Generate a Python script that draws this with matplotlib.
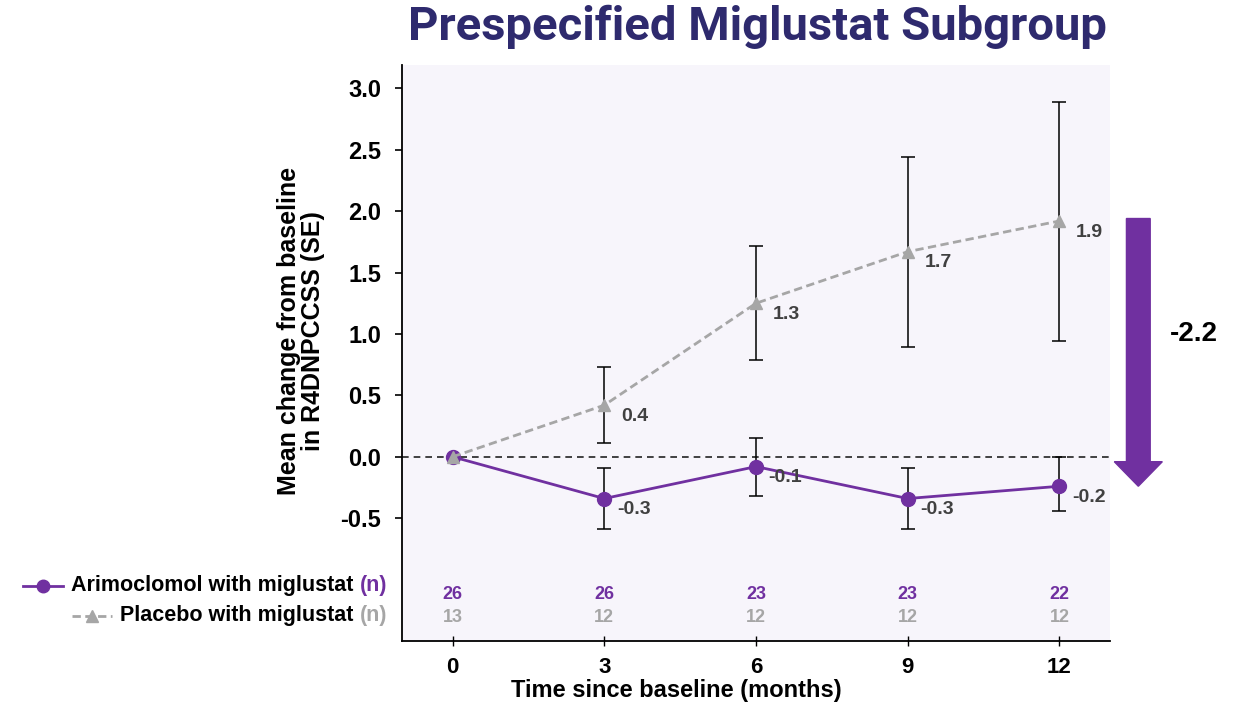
import matplotlib
matplotlib.use("Agg")
import matplotlib.pyplot as plt
from matplotlib.patches import FancyArrow

plt.rcParams['font.family'] = ['Liberation Sans', 'DejaVu Sans']

# ---- data ----
months = [0, 3, 6, 9, 12]
ari_mean = [0.0, -0.34, -0.08, -0.34, -0.24]
ari_lo = [0.0, -0.59, -0.32, -0.59, -0.44]
ari_hi = [0.0, -0.09, 0.15, -0.09, 0.0]
ari_labels = ["", "-0.3", "-0.1", "-0.3", "-0.2"]
pla_mean = [0.0, 0.42, 1.25, 1.67, 1.92]
pla_lo = [0.0, 0.11, 0.79, 0.89, 0.94]
pla_hi = [0.0, 0.73, 1.72, 2.44, 2.89]
pla_labels = ["", "0.4", "1.3", "1.7", "1.9"]
ari_n = [26, 26, 23, 23, 22]
pla_n = [13, 12, 12, 12, 12]
yticks = [-0.5, 0.0, 0.5, 1.0, 1.5, 2.0, 2.5, 3.0]
difference_label = "-2.2"
difference_value = -2.2

PURPLE = "#7030A0"
GREY = "#A6A6A6"
DARK = "#404040"
NAVY = "#2E2A6E"

W, H = 1244, 704
fig = plt.figure(figsize=(W / 100, H / 100), dpi=100)
ax = fig.add_axes([402 / W, 1 - 641 / H, (1110 - 402) / W, (641 - 65) / H])
ax.set_facecolor("#F7F5FB")
ax.set_xlim(-1, 13)
ax.set_ylim(-1.5, 3.19)

for s in ["top", "right"]:
    ax.spines[s].set_visible(False)
for s in ["left", "bottom"]:
    ax.spines[s].set_linewidth(1.3)
    ax.spines[s].set_color("black")

ax.axhline(0, color="#222222", lw=1.2, ls=(0, (4, 3)), zorder=1)

def errs(mean, lo, hi, idx):
    return [[mean[i] - lo[i] for i in idx], [hi[i] - mean[i] for i in idx]]

idx = [1, 2, 3, 4]
ax.errorbar([months[i] for i in idx], [ari_mean[i] for i in idx],
            yerr=errs(ari_mean, ari_lo, ari_hi, idx), fmt="none",
            ecolor="black", elinewidth=1.1, capsize=5, capthick=1.1, zorder=2)
ax.errorbar([months[i] for i in idx], [pla_mean[i] for i in idx],
            yerr=errs(pla_mean, pla_lo, pla_hi, idx), fmt="none",
            ecolor="black", elinewidth=1.1, capsize=5, capthick=1.1, zorder=2)

ax.plot(months, ari_mean, color=PURPLE, lw=2.0, marker="o", ms=10, zorder=3)
ax.plot(months, pla_mean, color=GREY, lw=2.0, ls=(0, (3, 1.6)), marker="^",
        ms=9, zorder=4)

for x, y, t in zip(months, ari_mean, ari_labels):
    if t:
        ax.annotate(t, (x, y), xytext=(9, -8), textcoords="offset points",
                    ha="left", va="center", fontsize=14, fontweight="bold",
                    color=DARK)
for x, y, t in zip(months, pla_mean, pla_labels):
    if t:
        ax.annotate(t, (x, y), xytext=(12, -8), textcoords="offset points",
                    ha="left", va="center", fontsize=14, fontweight="bold",
                    color=DARK)

for x, a, p in zip(months, ari_n, pla_n):
    ax.text(x, -1.12, str(a), ha="center", va="center", fontsize=13,
            fontweight="bold", color=PURPLE)
    ax.text(x, -1.31, str(p), ha="center", va="center", fontsize=13,
            fontweight="bold", color=GREY)

ax.set_yticks(yticks)
ax.set_yticklabels([f"{v:.1f}" for v in yticks], fontsize=17, fontweight="bold")
ax.set_xticks(months)
ax.set_xticklabels([str(m) for m in months], fontsize=16, fontweight="bold")
ax.tick_params(axis="y", direction="out", length=5, width=1.2, pad=10)
ax.tick_params(axis="x", direction="inout", length=7, width=1.0, pad=8)

fig.text(301 / W, 1 - 331 / H, "Mean change from baseline\nin R4DNPCCSS (SE)",
         rotation=90, ha="center", va="center", fontsize=18,
         fontweight="bold", linespacing=1.0)
fig.text(676 / W, 1 - 690 / H, "Time since baseline (months)", ha="center",
         va="center", fontsize=17, fontweight="bold")

fig.text(757 / W, 1 - 27 / H, "Prespecified Miglustat Subgroup", ha="center",
         va="center", fontsize=34, fontweight="bold", color=NAVY,
         family=["Roboto", "DejaVu Sans"])

arrow = FancyArrow(13.56, pla_mean[-1] + 0.02, 0, difference_value + 0.02,
                   width=0.47, head_width=0.95, head_length=0.2,
                   length_includes_head=True, color=PURPLE,
                   transform=ax.transData, clip_on=False)
ax.add_patch(arrow)
ax.text(14.66, 1.0, difference_label, ha="center", va="center", fontsize=20,
        fontweight="bold", color="black", clip_on=False)

fig.canvas.draw()
r = fig.canvas.get_renderer()
xr = 387 / W
for yy, main, col, style in [(586, "Arimoclomol with miglustat ", PURPLE, "ari"),
                             (616, "Placebo with miglustat ", GREY, "pla")]:
    tn = fig.text(xr, 1 - yy / H, "(n)", ha="right", va="center", fontsize=15.5,
                  fontweight="bold", color=col)
    bb = tn.get_window_extent(renderer=r)
    tm = fig.text(bb.x0 / W, 1 - yy / H, main, ha="right", va="center",
                  fontsize=15.5, fontweight="bold", color="black")
    bm = tm.get_window_extent(renderer=r)
    x1 = bm.x0 - 8
    x0 = x1 - 40
    if style == "ari":
        fig.add_artist(plt.Line2D([x0 / W, x1 / W], [1 - yy / H] * 2,
                                  color=PURPLE, lw=2.0))
        fig.add_artist(plt.Line2D([(x0 + x1) / 2 / W], [1 - yy / H],
                                  color=PURPLE, marker="o", ms=9, lw=0))
    else:
        fig.add_artist(plt.Line2D([x0 / W, x1 / W], [1 - yy / H] * 2,
                                  color=GREY, lw=2.0, ls=(0, (3, 1.6))))
        fig.add_artist(plt.Line2D([(x0 + x1) / 2 / W], [1 - yy / H],
                                  color=GREY, marker="^", ms=8, lw=0))

fig.savefig("out.png", dpi=100)
